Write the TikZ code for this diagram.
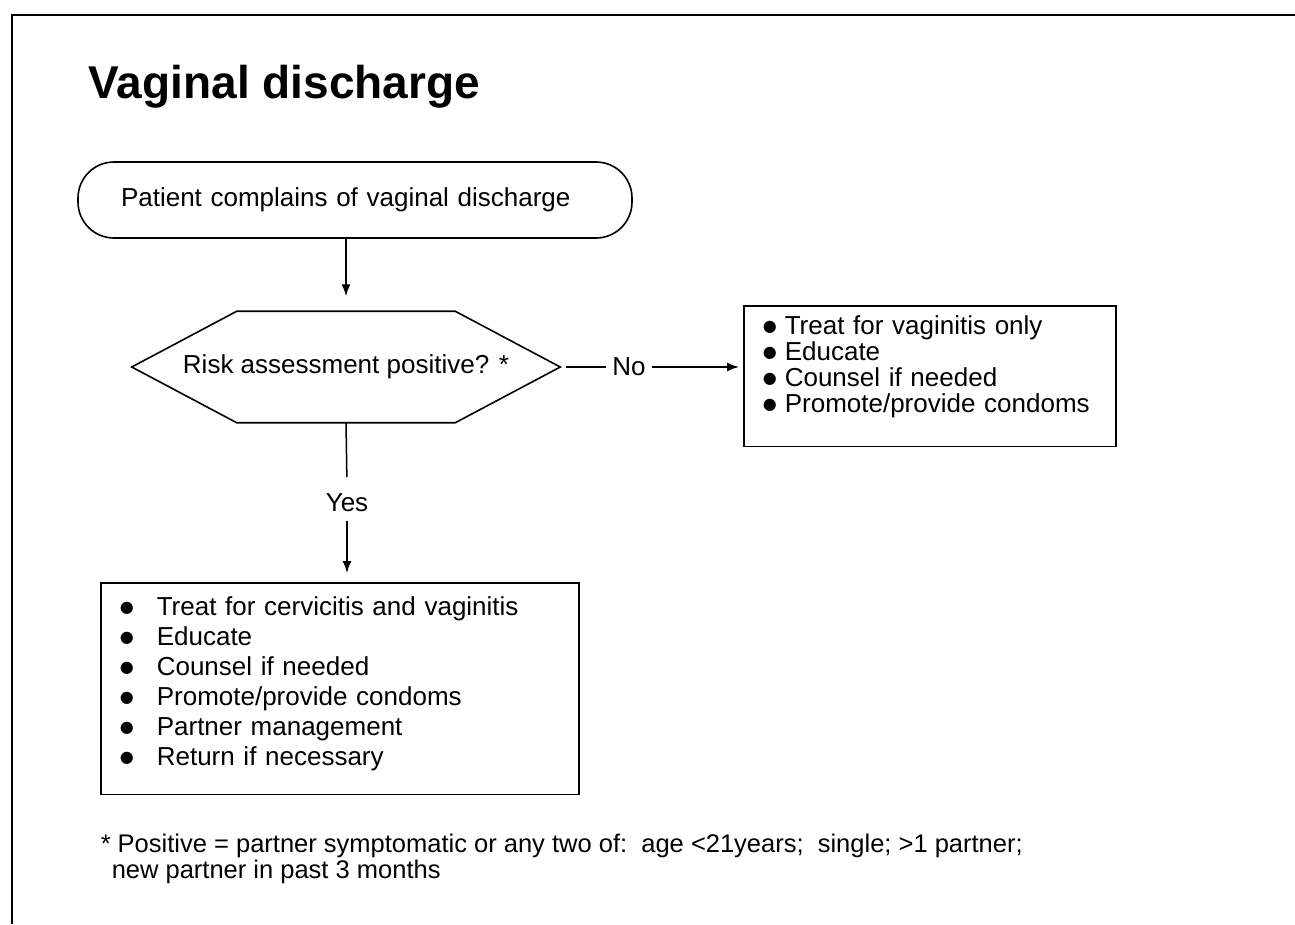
\documentclass[tikz,border=0pt]{standalone}
\usepackage{fontspec}
\setmainfont{Liberation Sans}
\newfontfamily\dotfont{DejaVu Sans}
\usetikzlibrary{arrows.meta}
% filled round bullet for the action lists
\newcommand\listdot{\raisebox{3.5pt}{\dotfont\fontsize{16}{16}\selectfont ●}}
\begin{document}
\begin{tikzpicture}[x=1pt,y=-1pt,
  line width=1.5pt,
  every node/.style={font=\fontsize{26}{26}\selectfont},
  arr/.style={-{Latex[length=12pt,width=9pt]}},
  startbox/.style={draw, line width=1.6pt, rounded corners=36pt,
    minimum width=554pt, minimum height=76pt,
    text width=468pt, inner xsep=43pt, align=left},
  listbox/.style={draw, line width=1.6pt, anchor=north west, align=left},
  lbl/.style={inner xsep=6pt, inner ysep=8pt}
]
% page and frame
\fill[white] (0,0) rectangle (1295,924);
\useasboundingbox (0,0) rectangle (1295,924);
\draw[line width=2pt] (12,924) -- (12,15);
\draw[line width=2.6pt] (11,15) -- (1295,15);

% heading
\node[anchor=base west, inner sep=0, font=\fontsize{46}{50}\selectfont\bfseries]
  (title) at (88,98) {Vaginal discharge};

% start
\node[startbox] (start) at (355,200) {Patient complains of vaginal discharge};

% decision
\node[minimum width=427pt, minimum height=110pt, inner sep=0] (risk) at (346,367)
  {Risk assessment positive? *};
\draw[line width=1.6pt] (risk.west) -- ([xshift=105pt]risk.north west)
  -- ([xshift=-105pt]risk.north east) -- (risk.east)
  -- ([xshift=-105pt]risk.south east) -- ([xshift=105pt]risk.south west) -- cycle;

\draw[arr, shorten >=15pt] (start.south -| risk.north) -- (risk.north);

% negative branch
\node[listbox, text width=334pt, inner xsep=19pt, inner ysep=10pt] (nobox) at (743,305)
  {\makebox[22pt][l]{\listdot}Treat for vaginitis only\\
   \makebox[22pt][l]{\listdot}Educate\\
   \makebox[22pt][l]{\listdot}Counsel if needed\\
   \makebox[22pt][l]{\listdot}Promote/provide condoms\rule[-24pt]{0pt}{1pt}};
\node[lbl] (no) at (629,367) {No};
\draw[shorten <=6pt] (risk.east) -- (no.west);
\draw[arr, shorten >=4pt] (no.east) -- (nobox.west |- no.east);

% positive branch
\node[listbox, text width=440pt, inner xsep=19pt, inner ysep=14pt,
  font=\fontsize{26}{30}\selectfont] (yesbox) at (100,582)
  {\makebox[37pt][l]{\listdot}Treat for cervicitis and vaginitis\\
   \makebox[37pt][l]{\listdot}Educate\\
   \makebox[37pt][l]{\listdot}Counsel if needed\\
   \makebox[37pt][l]{\listdot}Promote/provide condoms\\
   \makebox[37pt][l]{\listdot}Partner management\\
   \makebox[37pt][l]{\listdot}Return if necessary\rule[-15pt]{0pt}{1pt}};
\node[lbl] (yes) at (347,503) {Yes};
\draw[shorten >=8pt] (risk.south) -- (yes.north);
\draw[arr, shorten >=9pt] (yes.south) -- (yes.south |- yesbox.north);

% footnote
\node[anchor=north west, align=left, inner sep=0,
  font=\fontsize{25.5}{26}\selectfont] (note) at (100,833)
  {* Positive = partner symptomatic or any two of:\ \ age <21years;\ \ single; >1 partner;\\
   \hspace{11pt}new partner in past 3 months};
\end{tikzpicture}
\end{document}
